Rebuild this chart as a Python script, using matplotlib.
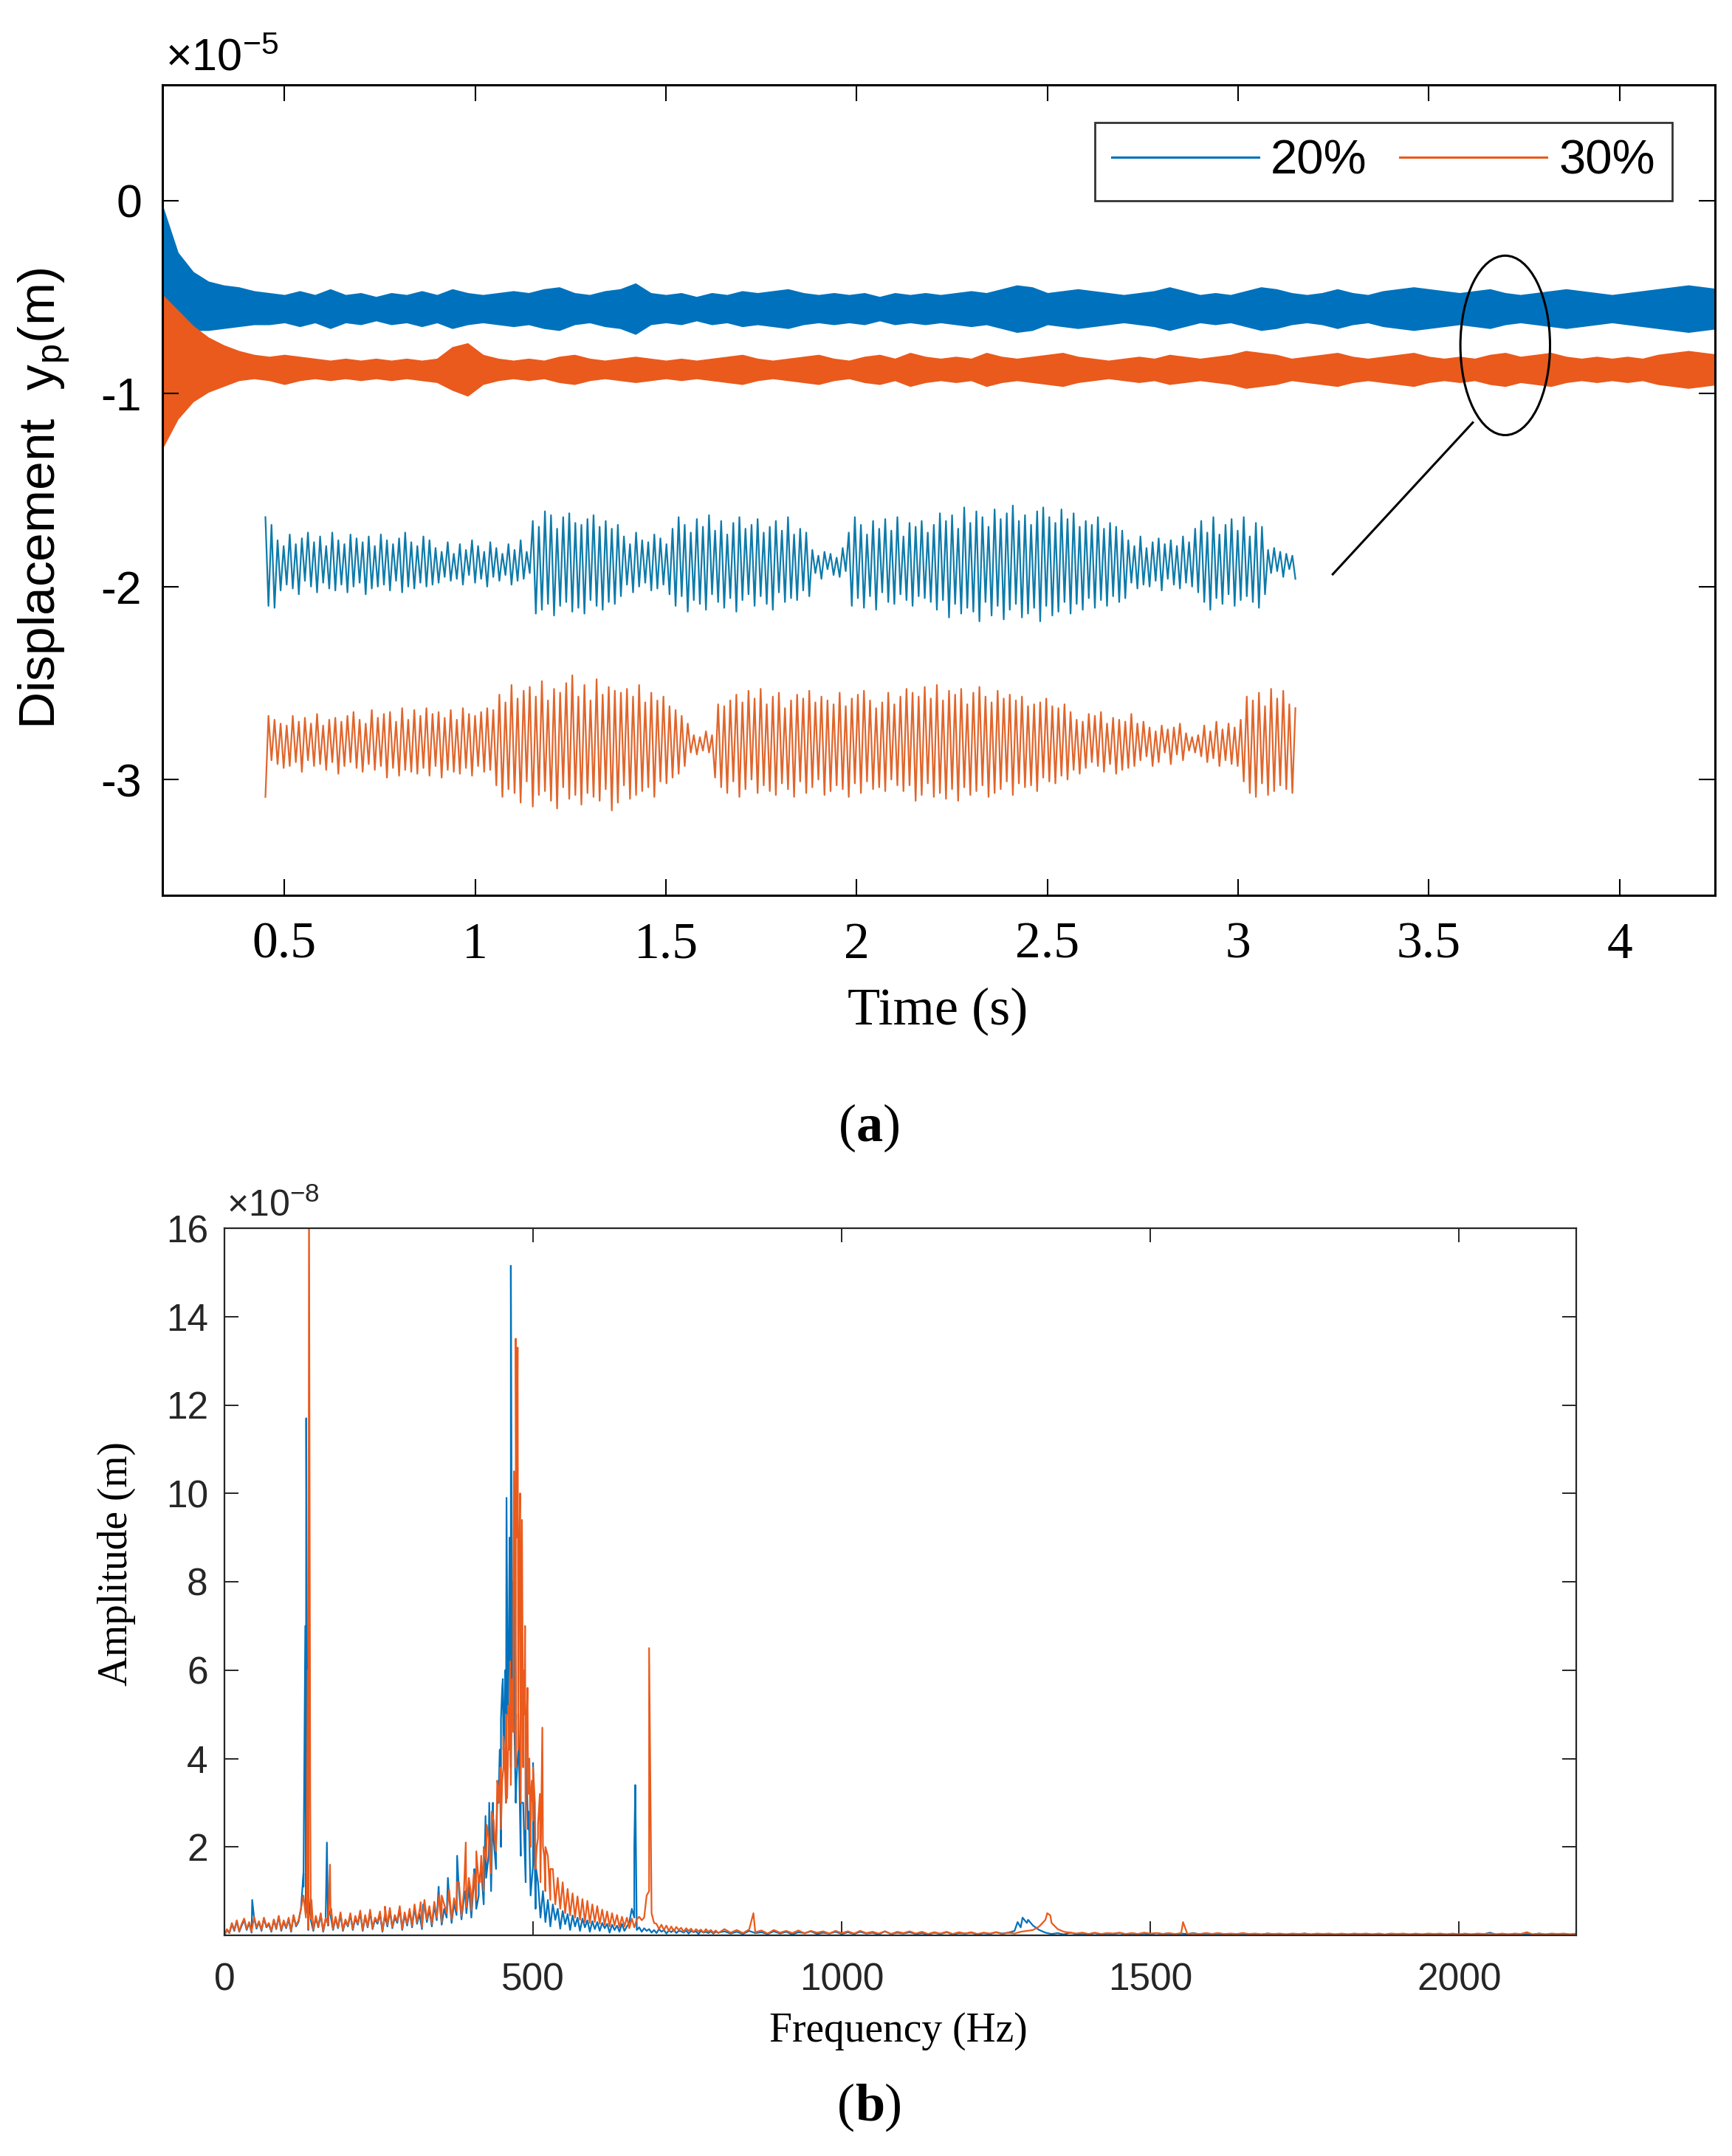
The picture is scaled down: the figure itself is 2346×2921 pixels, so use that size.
import numpy as np
import matplotlib
matplotlib.use("Agg")
import matplotlib.pyplot as plt
from matplotlib.patches import Ellipse
from matplotlib.lines import Line2D
from matplotlib.offsetbox import TextArea, HPacker, AnchoredOffsetbox

# ------------------------------------------------------------------ data
series_names = ["20%", "30%"]

# (a) response band edges, sampled every 0.04 s from 0.18 s, unit 1e-7 m
band_t0, band_dt = 0.18, 0.04
blue_hi = [-3, -27, -37, -42, -44, -45, -47, -48, -49, -47, -49, -46, -49, -48, -50, -48, -49, -47, -49, -46,
           -48, -49, -48, -47, -48, -46, -45, -48, -49, -47, -46, -43, -48, -49, -48, -50, -48, -49, -47, -48,
           -47, -46, -48, -49, -48, -49, -48, -50, -48, -49, -48, -49, -48, -47, -48, -46, -44, -45, -48, -47,
           -46, -47, -48, -49, -48, -47, -45, -47, -49, -48, -49, -47, -45, -46, -48, -49, -48, -46, -48, -49,
           -47, -46, -45, -46, -47, -48, -47, -46, -48, -49, -48, -47, -46, -47, -48, -49, -48, -47, -46, -45,
           -44, -45, -46]
blue_lo = [-66, -68, -67, -67, -66, -65, -64, -64, -63, -65, -63, -66, -63, -64, -62, -64, -63, -65, -63, -66,
           -64, -63, -64, -65, -64, -66, -67, -64, -63, -65, -66, -69, -64, -63, -64, -62, -64, -63, -65, -64,
           -65, -66, -64, -63, -64, -63, -64, -62, -64, -63, -64, -63, -64, -65, -64, -66, -68, -67, -64, -65,
           -66, -65, -64, -63, -64, -65, -67, -65, -63, -64, -63, -65, -67, -66, -64, -63, -64, -66, -64, -63,
           -65, -66, -67, -66, -65, -64, -65, -66, -64, -63, -64, -65, -66, -65, -64, -63, -64, -65, -66, -67,
           -68, -67, -66]
orange_hi = [-49, -57, -65, -71, -75, -78, -80, -81, -80, -81, -82, -83, -82, -83, -82, -83, -82, -83, -82, -76,
             -74, -80, -82, -83, -82, -83, -81, -80, -82, -83, -82, -81, -82, -83, -82, -83, -82, -81, -80, -82,
             -83, -82, -81, -80, -82, -83, -81, -80, -82, -79, -81, -82, -81, -82, -79, -81, -82, -81, -80, -79,
             -81, -82, -83, -82, -81, -82, -80, -81, -82, -81, -80, -78, -79, -80, -82, -81, -80, -79, -81, -82,
             -81, -80, -79, -81, -82, -81, -82, -80, -79, -81, -80, -79, -81, -82, -81, -82, -81, -82, -80, -79,
             -78, -79, -80]
orange_lo = [-128, -113, -104, -99, -96, -93, -92, -93, -95, -93, -92, -93, -92, -93, -92, -93, -92, -93, -94, -98,
             -101, -95, -93, -92, -93, -92, -94, -95, -93, -92, -93, -94, -93, -92, -93, -92, -93, -94, -95, -93,
             -92, -93, -94, -95, -93, -92, -94, -95, -93, -96, -94, -93, -94, -93, -96, -94, -93, -94, -95, -96,
             -94, -93, -92, -93, -94, -93, -95, -94, -93, -94, -95, -97, -96, -95, -93, -94, -95, -96, -94, -93,
             -94, -95, -96, -94, -93, -94, -93, -95, -96, -94, -95, -96, -94, -93, -94, -93, -94, -93, -95, -96,
             -97, -96, -95]

# (a) magnified traces: successive extremes about their own base line, unit 1e-7 m
zoom_t_span = (0.45, 3.15)          # s, horizontal extent of the magnified traces
zoom_base = [-1.88, -2.81]          # x1e-5 m, base lines of the magnified traces
zoom_blue = [24, -22, 20, -23,
             12, -14, 9, -11, 15, -13, 10, -16, 13, -9, 16, -12, 11, -15, 14, -10, 9, -13, 16, -14, 12, -11,
             10, -15, 15, -12, 13, -10, 11, -16, 14, -13, 9, -12, 15, -11, 12, -14, 10, -9, 13, -15, 16, -12,
             11, -13, 9, -10, 14, -12, 12, -11,
             8, -10, 6, -7, 11, -9, 5, -8, 10, -11, 7, -6, 12, -10, 9, -8, 6, -12, 11, -7, 8, -9, 5, -6,
             10, -11, 7, -9, 12, -8, 6, -5,
             22, -26, 19, -24, 27, -21, 25, -27, 18, -22, 24, -20, 26, -25, 21, -23, 20, -26, 23, -19,
             25, -22, 19, -24, 22, -20, 18, -21, 20, -17,
             14, -11, 10, -15, 16, -12, 12, -10, 11, -14, 15, -13, 13, -11, 10, -16,
             18, -22, 24, -17, 20, -25, 16, -19, 23, -21, 19, -24, 25, -16, 17, -20, 22, -23, 15, -18,
             21, -25, 24, -19, 18, -16, 20, -22, 23, -17, 16, -21, 19, -24, 22, -15, 17, -20, 24, -18,
             15, -19, 18, -14, 16, -17,
             7, -5, 4, -8, 6, -3, 5, -6, 3, -7, 8, -4,
             16, -22, 24, -18, 20, -23, 15, -17, 22, -24, 18, -15, 23, -20, 17, -21, 24, -16, 14, -19,
             21, -22, 19, -17, 22, -18, 16, -20,
             20, -24, 26, -19, 22, -28, 25, -21, 18, -26, 29, -23, 21, -25, 27, -30, 24, -20, 19, -27,
             28, -22, 23, -29, 26, -24, 30, -21, 22, -28, 25, -26, 20, -23, 27, -30, 29, -22, 24, -27,
             21, -25, 28, -20, 23, -26, 26, -21, 19, -24, 22, -18, 20, -23, 24, -19, 18, -22, 21, -17,
             19, -20, 17, -18,
             12, -10, 9, -13, 14, -11, 8, -12, 11, -9, 13, -14, 10, -8, 12, -11, 9, -13, 14, -10, 11, -12,
             18, -15, 22, -20, 16, -24, 24, -18, 15, -21, 20, -16, 23, -22, 17, -19, 24, -17, 14, -20,
             21, -23, 19, -16,
             7, -5, 8, -4, 6, -7, 5, -3, 4, -8]
zoom_orange = [-28, 14, -9, 12, -11, 10, -13, 9, -12, 14, -10, 11, -15, 13, -9, 10, -12, 15, -11, 9,
               -14, 12, -10, 13, -16, 11, -12, 14, -10, 16, -13, 12, -15, 10, -11, 17, -14, 13, -12, 15,
               -18, 16, -13, 11, -17, 18, -14, 12, -15, 17, -16, 14, -13, 18, -17, 15, -12, 16, -18, 13,
               -14, 17, -15, 12, -16, 18, -13, 15, -17, 14, -12, 16, -15, 18, -14, 17,
               -22, 25, -28, 21, -24, 30, -26, 23, -31, 27, -20, 29, -33, 24, -27, 32, -25, 22, -30, 28,
               -34, 26, -23, 31, -29, 35, -27, 24, -32, 30, -26, 22, -28, 33, -30, 25, -24, 29, -35, 27,
               -31, 26, -22, 28, -29, 24, -27, 30, -25, 21, -23, 26, -28, 22, -20, 24, -21, 19, -18, 17,
               -16, 14, -12, 10,
               -5, 4, -6, 3, -4, 6, -5, 4,
               -18, 20, -23, 19, -26, 22, -20, 25, -28, 21, -24, 27, -19, 23, -26, 28, -22, 20, -25, 24,
               -27, 26, -21, 18, -24, 22, -28, 25, -20, 23, -26, 27, -23, 21, -19, 24, -27, 22, -25, 20,
               -22, 26, -24, 19, -28, 23, -21, 25, -26, 27, -20, 22, -24, 18, -23, 21, -25, 26, -19, 20,
               -22, 24,
               -25, 28, -22, 26, -30, 24, -27, 29, -21, 23, -28, 30, -26, 22, -29, 27, -24, 25, -30, 28,
               -23, 20, -27, 26, -25, 29, -22, 24, -28, 21, -26, 27, -24, 23, -20, 25, -27, 22, -21, 24,
               -23, 19, -22, 20, -25, 21, -18, 23, -20, 19, -21, 18, -17, 20, -19, 16,
               -14, 12, -16, 11, -13, 15, -10, 14, -12, 16, -15, 10, -11, 13, -16, 12, -14, 11, -13, 15,
               -12, 10,
               -9, 11, -7, 8, -12, 6, -10, 9, -5, 7, -11, 8, -6, 10, -9, 5, -4, 3, -5, 4,
               -7, 9, -10, 6, -8, 11, -12, 7, -9, 10, -11, 8, -12, 12,
               -20, 24, -26, 22, -28, 26, -21, 19, -27, 28, -25, 23, -22, 27, -24, 20, -26, 18]

# (b) amplitude spectra, unit 1e-10 m
spec_fine_step, spec_fine_max = 4, 800         # Hz
spec_coarse_start, spec_coarse_step, spec_coarse_max = 810, 10, 2190
blue_floor_fine = [0, 12, 5, 25, 10, 32, 8, 22, 35, 12, 28, 6, 40, 15, 30, 10, 38, 18, 25, 8, 34, 14, 42, 10, 30,
                   16, 36, 8, 44, 20, 30, 60, 140, 50, 12, 34, 10, 40, 18, 46, 8, 36, 22, 44, 12, 38, 16, 48, 10, 32,
                   20, 46, 12, 38, 24, 50, 10, 42, 18, 52, 14, 36, 26, 48, 8, 44, 20, 56, 16, 40, 28, 60, 12, 46, 22,
                   54, 18, 62, 26, 48, 14, 70, 30, 58, 20, 66, 34, 80, 24, 60, 40, 90, 28, 72, 46, 100, 36, 84, 50, 110,
                   40, 120, 60, 90, 150, 70, 130, 180, 100, 220, 150, 300, 200, 420, 300, 560, 380, 500, 300, 420,
                   180, 300, 120, 240, 90,
                   160, 60, 120, 40, 100, 30, 80, 20, 70, 35, 60, 15, 55, 25, 48, 12, 45, 20, 40, 10, 38, 18, 34, 8, 32,
                   14, 30, 10, 28, 16, 26, 6, 24, 12, 22, 8, 26, 10, 20, 30, 60, 40, 12, 18, 8, 16, 10, 14, 6, 12,
                   5, 14, 8, 12, 4, 11, 7, 13, 5, 10, 9, 6, 11, 4, 10, 7, 9, 3, 10, 6, 8, 5, 9, 4, 8, 6]
blue_floor_coarse = [9, 4, 8, 3, 10, 5, 7, 3, 9, 4, 8, 2, 7, 5, 9, 3, 6, 4, 8, 3,
                     7, 3, 8, 4, 6, 2, 9, 3, 6, 4, 7, 3, 5, 2, 6, 3, 7, 2, 5, 4,
                     6, 2, 5, 3, 7, 4, 6, 10, 18, 28, 22, 12, 6, 3, 5, 2, 6, 3, 4, 2,
                     5, 2, 4, 3, 5, 2, 4, 3, 4, 2, 5, 3, 4, 2, 4, 3, 5, 2, 4, 3,
                     4, 2, 3, 2, 4, 2, 3, 2, 4, 2, 3, 2, 3, 2, 4, 2, 3, 2, 3, 2,
                     3, 2, 3, 2, 3, 2, 3, 1, 3, 2, 3, 2, 3, 2, 3, 1, 3, 2, 3, 2,
                     3, 2, 3, 2, 6, 2, 3, 2, 3, 2, 3, 2, 4, 2, 3, 2, 3, 2, 3]
blue_peak_f = [45, 128, 131, 132.5, 134, 136, 166, 168, 322, 347, 362, 377, 390, 405, 412, 423, 429, 435, 440,
               442, 446, 448, 450, 451, 453, 455, 457, 459, 461, 462, 464, 466, 468, 470, 473, 476, 480, 485,
               488, 493, 500, 505, 664, 665.6, 667, 1285, 1293, 1302]
blue_peak_a = [80, 110, 700, 1170, 500, 90, 210, 60, 70, 110, 130, 180, 100, 150, 120, 270, 300, 300, 200,
               300, 420, 490, 560, 580, 450, 600, 990, 500, 700, 900, 1515, 600, 800, 450, 350, 500, 300, 250,
               420, 280, 390, 150, 200, 340, 150, 30, 40, 35]
orange_floor_fine = [0, 14, 6, 28, 12, 34, 9, 26, 38, 14, 30, 8, 42, 18, 32, 12, 40, 20, 28, 10, 36, 16, 44, 12, 34,
                     18, 40, 10, 46, 22, 34, 60, 90, 40, 14, 38, 12, 44, 20, 50, 10, 40, 24, 48, 14, 42, 18, 52, 12, 36,
                     22, 50, 14, 44, 26, 56, 12, 46, 20, 58, 16, 40, 30, 54, 10, 48, 24, 62, 18, 46, 32, 66, 14, 52, 26,
                     60, 22, 70, 30, 56, 18, 80, 36, 66, 26, 76, 40, 92, 30, 70, 50, 104, 36, 84, 56, 120, 44, 100, 64, 130,
                     56, 140, 80, 120, 180, 100, 170, 220, 140, 260, 190, 330, 240, 380, 300, 440, 340, 460, 380, 420,
                     300, 380, 240, 320, 200,
                     260, 150, 220, 120, 200, 100, 180, 80, 150, 70, 130, 60, 120, 50, 105, 45, 95, 40, 88, 35,
                     82, 30, 78, 28, 70,
                     30, 66, 26, 58, 24, 54, 20, 50, 22, 46, 18, 42, 20, 40, 16, 38, 18, 36, 42, 34, 40, 90, 100, 50, 28,
                     26, 14, 24, 12, 22, 10, 20, 9, 19, 12, 17, 8, 16, 10, 15, 7, 14, 9, 13, 6, 14, 8, 12, 6, 11, 5]
orange_floor_coarse = [14, 6, 12, 5, 13, 7, 11, 4, 12, 6, 10, 5, 11, 4, 10, 6, 9, 4, 10, 5,
                       9, 4, 10, 5, 8, 4, 9, 3, 8, 5, 9, 4, 8, 3, 7, 4, 8, 3, 7, 4,
                       7, 3, 6, 4, 7, 3, 6, 4, 8, 10, 12, 20, 35, 28, 14, 8, 6, 4, 6, 3,
                       6, 3, 5, 4, 6, 3, 5, 3, 6, 4, 5, 3, 5, 3, 5, 3, 4, 3, 5, 3,
                       5, 3, 4, 3, 5, 3, 4, 2, 4, 3, 4, 2, 4, 3, 4, 2, 4, 3, 4, 2,
                       4, 2, 4, 3, 4, 2, 4, 2, 4, 3, 4, 2, 4, 2, 4, 3, 4, 2, 4, 2,
                       4, 2, 4, 3, 4, 2, 4, 2, 4, 3, 7, 2, 4, 2, 4, 3, 4, 2, 4]
orange_peak_f = [133, 135, 137, 139, 141, 171, 173, 260, 318, 352, 377, 391, 399, 408, 414, 420, 425, 430, 433,
                 438, 442, 445, 447, 450, 452, 454, 456, 458, 460, 461, 463, 466, 468, 469, 471, 472, 473, 475,
                 477, 479, 482, 484, 486, 487, 489, 491, 494, 496, 498, 500, 503, 506, 508, 511, 515, 518, 520,
                 528, 688, 857, 1333, 1338, 1553]
orange_peak_a = [100, 600, 1700, 300, 80, 160, 60, 65, 75, 90, 120, 210, 100, 190, 120, 200, 250, 170, 280,
                 220, 350, 300, 380, 350, 450, 400, 500, 310, 520, 420, 620, 580, 800, 1050, 700, 1350, 900, 1330,
                 800, 1000, 940, 600, 500, 700, 450, 560, 400, 300, 350, 380, 300, 200, 250, 320, 470, 180, 200,
                 150, 650, 50, 50, 45, 30]

# ------------------------------------------------------------------ style
W, H = 2346, 2921
C_BLUE = "#0072BD"
C_ORANGE = "#EA5A1C"
C_BLUE_Z = "#0E7BAA"
C_ORANGE_Z = "#E0662C"
SANS = "Liberation Sans"
SERIF = "Liberation Serif"


def fx(px):
    return px / W


def fy(py):
    return 1 - py / H


fig = plt.figure(figsize=(W / 100, H / 100), dpi=100)
fig.patch.set_facecolor("white")

# ------------------------------------------------------------------ panel (a)
ax1 = fig.add_axes([fx(220), fy(1213), (2323 - 220) / W, (1213 - 115) / H])
t_band = band_t0 + band_dt * np.arange(len(blue_hi))
ax1.fill_between(t_band, np.array(blue_lo) / 100, np.array(blue_hi) / 100,
                 color=C_BLUE, lw=1.2, edgecolor=C_BLUE)
ax1.fill_between(t_band, np.array(orange_lo) / 100, np.array(orange_hi) / 100,
                 color=C_ORANGE, lw=1.2, edgecolor=C_ORANGE)

tz_b = np.linspace(zoom_t_span[0], zoom_t_span[1], len(zoom_blue))
tz_o = np.linspace(zoom_t_span[0], zoom_t_span[1], len(zoom_orange))
ax1.plot(tz_b, zoom_base[0] + np.array(zoom_blue) / 100, color=C_BLUE_Z, lw=1.6)
ax1.plot(tz_o, zoom_base[1] + np.array(zoom_orange) / 100, color=C_ORANGE_Z, lw=1.6)

# marking ellipse and pointer
ell_center, ell_w, ell_h = (3.70, -0.75), 0.235, 0.93
ax1.add_patch(Ellipse(ell_center, ell_w, ell_h, fill=False, ec="black", lw=2.2))
ax1.plot([3.615, 3.248], [-1.15, -1.936], color="black", lw=2.2)

ax1.set_xlim(0.18, 4.25)
ax1.set_ylim(-3.6, 0.6)
xt1 = [0.5, 1, 1.5, 2, 2.5, 3, 3.5, 4]
xt1_labels = ["0.5", "1", "1.5", "2", "2.5", "3", "3.5", "4"]
yt1 = [0, -1, -2, -3]
yt1_labels = ["0", "-1", "-2", "-3"]
ax1.set_xticks(xt1)
ax1.set_xticklabels(xt1_labels, fontfamily=SERIF, fontsize=50)
ax1.set_yticks(yt1)
ax1.set_yticklabels(yt1_labels, fontfamily=SANS, fontsize=45)
ax1.tick_params(direction="in", length=16, width=1.5, top=True, right=True, color="black")
ax1.tick_params(axis="x", pad=26)
ax1.tick_params(axis="y", pad=20)
for s in ax1.spines.values():
    s.set_linewidth(2.2)
    s.set_color("black")

handles = [Line2D([], [], color=C_BLUE, lw=2.2), Line2D([], [], color=C_ORANGE, lw=2.2)]
leg = ax1.legend(handles, series_names, loc="upper right", bbox_to_anchor=(0.9724, 0.9536),
                 borderaxespad=0, ncol=2, frameon=True, fancybox=False,
                 prop={"family": SANS, "size": 47}, handlelength=3.05, handletextpad=0.25,
                 columnspacing=0.68, borderpad=0.35)
leg.get_frame().set_edgecolor("black")
leg.get_frame().set_linewidth(2.0)

fig.text(fx(224), fy(80), r"$\mathregular{\times10^{-5}}$", family=SANS, fontsize=44,
         ha="left", va="center")
fig.text(fx(60), fy(675), r"Displacement  $\mathregular{y_p}$(m)", family=SANS, fontsize=50,
         rotation=90, ha="center", va="center")
fig.text(fx(1270), fy(1370), "Time (s)", family=SERIF, fontsize=52, ha="center", va="center")

# ------------------------------------------------------------------ panel (b)
ax2 = fig.add_axes([fx(304), fy(2622), (2135 - 304) / W, (2622 - 1664) / H])
f_fine = np.arange(0, spec_fine_max + 1, spec_fine_step)
f_coarse = np.arange(spec_coarse_start, spec_coarse_max + 1, spec_coarse_step)


def spectrum(floor_fine, floor_coarse, peak_f, peak_a):
    f = np.concatenate([f_fine, f_coarse, peak_f]).astype(float)
    a = np.concatenate([floor_fine, floor_coarse, peak_a]).astype(float)
    order = np.argsort(f, kind="stable")
    return f[order], a[order] / 100


fb, ab = spectrum(blue_floor_fine, blue_floor_coarse, blue_peak_f, blue_peak_a)
fo, ao = spectrum(orange_floor_fine, orange_floor_coarse, orange_peak_f, orange_peak_a)
ax2.plot(fb, ab, color=C_BLUE, lw=1.6)
ax2.plot(fo, ao, color=C_ORANGE, lw=1.6)
ax2.set_xlim(0, 2190)
ax2.set_ylim(0, 16)
xt2 = [0, 500, 1000, 1500, 2000]
yt2 = [2, 4, 6, 8, 10, 12, 14, 16]
ax2.set_xticks(xt2)
ax2.set_xticklabels([str(v) for v in xt2], fontfamily=SANS, fontsize=37, color="#262626")
ax2.set_yticks(yt2)
ax2.set_yticklabels([str(v) for v in yt2], fontfamily=SANS, fontsize=37, color="#262626")
ax2.tick_params(direction="in", length=14, width=1.4, top=True, right=True, color="#262626")
ax2.tick_params(axis="x", pad=26)
ax2.tick_params(axis="y", pad=16)
for s in ax2.spines.values():
    s.set_linewidth(1.6)
    s.set_color("#262626")

fig.text(fx(307), fy(1634), r"$\mathregular{\times10^{-8}}$", family=SANS, fontsize=36,
         color="#262626", ha="left", va="center")
fig.text(fx(158), fy(2119), "Amplitude (m)", family=SERIF, fontsize=40, rotation=90,
         ha="center", va="center")
fig.text(fx(1217), fy(2752), "Frequency (Hz)", family=SERIF, fontsize=40, ha="center", va="center")


# ------------------------------------------------------------------ panel tags
def panel_tag(letter, x, y):
    parts = [TextArea("(", textprops=dict(family=SERIF, size=52)),
             TextArea(letter, textprops=dict(family=SERIF, size=52, weight="bold")),
             TextArea(")", textprops=dict(family=SERIF, size=52))]
    box = HPacker(children=parts, align="baseline", pad=0, sep=0)
    anc = AnchoredOffsetbox(loc="center", child=box, pad=0, borderpad=0, frameon=False,
                            bbox_to_anchor=(x, y), bbox_transform=fig.transFigure)
    fig.add_artist(anc)


panel_tag("a", fx(1178), fy(1528))
panel_tag("b", fx(1178), fy(2855))

fig.savefig("out.png", dpi=100, facecolor="white")
